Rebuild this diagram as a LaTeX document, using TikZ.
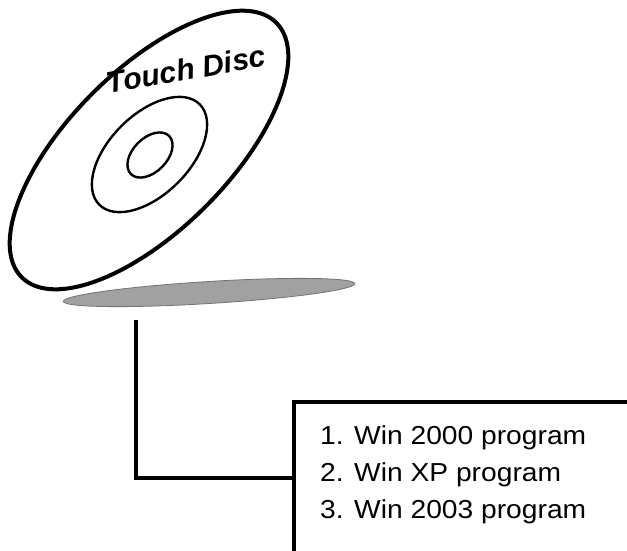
\documentclass[tikz,border=0pt]{standalone}
\usepackage{fontspec}
\setmainfont{Liberation Sans}
\newfontfamily\listface[FakeStretch=1.085]{Liberation Sans}
\begin{document}
\begin{tikzpicture}[x=1pt,y=-1pt,
  rim/.style={line width=4pt},
  groove/.style={line width=2.4pt},
  shade/.style={fill=black!37, draw=black!55, line width=0.8pt},
  wire/.style={line width=3.6pt},
  listfont/.style={font=\listface\fontsize{26}{37}\selectfont, align=left, inner sep=0pt}
]
\useasboundingbox (0,0) rectangle (627,550);
\clip (0,0) rectangle (627,550);

% shadow beneath the disc
\fill[shade, rotate around={3.5:(209,292.5)}] (209,292.5) ellipse [x radius=146pt, y radius=11pt];
\coordinate (shadow) at (209,292.5);

% the disc: rim, data ring and hub
\draw[rim, fill=white, rotate around={45:(149,150)}] (149,150) ellipse [x radius=180pt, y radius=80pt];
\draw[groove, rotate around={45:(149.5,154.5)}] (149.5,154.5) ellipse [x radius=71pt, y radius=40pt];
\draw[groove, rotate around={45:(150,155)}] (150,155) ellipse [x radius=27pt, y radius=17pt];
\node[anchor=base, rotate=10, inner sep=0pt,
  font=\fontsize{30}{36}\selectfont\bfseries\itshape] (label) at (188,80) {Touch Disc};

% program list box, open to the right and bottom
\node[wire, draw, anchor=north west, minimum width=400pt, minimum height=200pt,
  inner sep=0pt] (list) at (292,400) {};
\node[listfont, anchor=base west] (items) at (320,518)
  {1. Win 2000 program\\2. Win XP program\\3. Win 2003 program};

% connector from below the shadow to the box
\coordinate (stem) at (136,320);
\coordinate (join) at (292,478);
\draw[wire] (stem) |- (join);
\end{tikzpicture}
\end{document}
